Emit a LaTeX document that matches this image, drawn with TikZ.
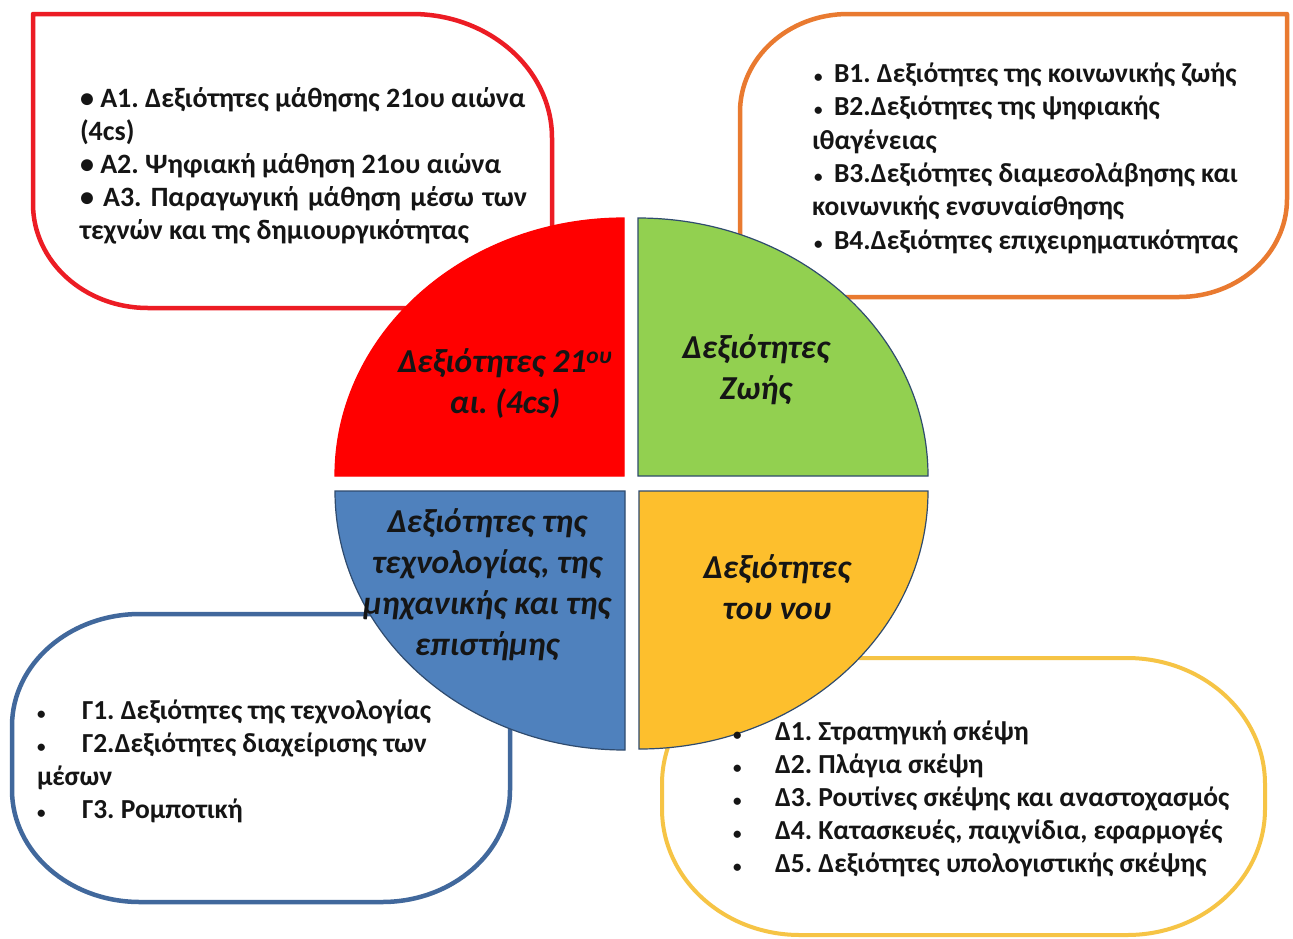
\documentclass[tikz,border=0pt]{standalone}
\usepackage{fontspec}
\setmainfont{Carlito}
\frenchspacing
\definecolor{qred}{HTML}{FF0000}
\definecolor{qgreen}{HTML}{92D050}
\definecolor{qblue}{HTML}{4F81BD}
\definecolor{qyellow}{HTML}{FDBF2D}
\definecolor{qedge}{HTML}{2F4B6E}
\definecolor{bred}{HTML}{EC1C24}
\definecolor{borange}{HTML}{E97A30}
\definecolor{bblue}{HTML}{41689C}
\definecolor{byellow}{HTML}{F6C445}
\definecolor{txt}{HTML}{151515}
\newcommand{\smallbul}{{\fontsize{17}{17}\selectfont •}}
\begin{document}
\begin{tikzpicture}[x=1pt,y=-1pt,
  boxline/.style={line width=4.5pt, fill=white, line join=round},
  quarter/.style={draw=qedge, line width=1.2pt},
  listtext/.style={anchor=north west, align=left, inner sep=0pt, outer sep=0pt, text=txt},
  qlabel/.style={align=center, inner sep=0pt, text=txt, font=\fontsize{33.5}{41}\selectfont\bfseries\itshape}
]
\useasboundingbox (0,0) rectangle (1293,938);
\fill[white] (0,0) rectangle (1293,938);

% callout boxes
\draw[boxline, draw=bred] (33,14) -- (412,14) arc[start angle=90,end angle=0,x radius=140pt,y radius=124pt] -- (552,308) -- (148,308) arc[start angle=270,end angle=180,x radius=115pt,y radius=104pt] -- cycle;
\draw[boxline, draw=borange] (740,297) -- (740,112) arc[start angle=180,end angle=90,x radius=108pt,y radius=98pt] -- (1287,14) -- (1287,199) arc[start angle=0,end angle=-90,x radius=108pt,y radius=98pt] -- cycle;
\draw[boxline, draw=bblue] (12,726) arc[start angle=180,end angle=90,x radius=128pt,y radius=112pt] -- (382,614) arc[start angle=90,end angle=0,x radius=128pt,y radius=112pt] -- (510,790) arc[start angle=0,end angle=-90,x radius=128pt,y radius=112pt] -- (140,902) arc[start angle=270,end angle=180,x radius=128pt,y radius=112pt] -- cycle;
\draw[boxline, draw=byellow, line width=4pt] (662,784) arc[start angle=180,end angle=90,x radius=138pt,y radius=126pt] -- (1127,658) arc[start angle=90,end angle=0,x radius=138pt,y radius=126pt] -- (1265,809) arc[start angle=0,end angle=-90,x radius=138pt,y radius=126pt] -- (800,935) arc[start angle=270,end angle=180,x radius=138pt,y radius=126pt] -- cycle;

% quarters
\filldraw[quarter, fill=qred, draw=qred] (624,476) -- (335,476) arc[start angle=180,end angle=90,x radius=289pt,y radius=258pt] -- cycle;
\filldraw[quarter, fill=qgreen] (638,476) -- (638,218) arc[start angle=90,end angle=0,x radius=290pt,y radius=258pt] -- cycle;
\filldraw[quarter, fill=qblue] (625,491) -- (335,491) arc[start angle=180,end angle=270,x radius=290pt,y radius=259pt] -- cycle;
\filldraw[quarter, fill=qyellow] (639,491) -- (639,749) arc[start angle=270,end angle=360,x radius=289pt,y radius=258pt] -- cycle;

% quarter labels
\node[qlabel] (lred) at (505,384) {Δεξιότητες 21\textsuperscript{ου}\\αι. (4cs)};
\node[qlabel] (lgreen) at (756,370) {Δεξιότητες\\Ζωής};
\node[qlabel] (lblue) at (487,585) {Δεξιότητες της\\τεχνολογίας, της\\μηχανικής και της\\επιστήμης};
\node[qlabel] (lyellow) at (777,587) {Δεξιότητες\\του νου};

% lists
\node[listtext, font=\fontsize{28}{33}\selectfont\bfseries] (tred) at (80,83.9) {\strut • Α1. Δεξιότητες μάθησης 21ου αιώνα\\(4cs)\\• Α2. Ψηφιακή μάθηση 21ου αιώνα\\\makebox[447pt][s]{• Α3. Παραγωγική μάθηση μέσω των}\\τεχνών και της δημιουργικότητας};
\node[listtext, font=\fontsize{27.5}{33.4}\selectfont\bfseries] (torange) at (812,58.9) {\strut\makebox[22pt][l]{\hspace{2pt}\smallbul}Β1. Δεξιότητες της κοινωνικής ζωής\\\makebox[22pt][l]{\hspace{2pt}\smallbul}Β2.Δεξιότητες της ψηφιακής\\ιθαγένειας\\\makebox[22pt][l]{\hspace{2pt}\smallbul}Β3.Δεξιότητες διαμεσολάβησης και\\κοινωνικής ενσυναίσθησης\\\makebox[22pt][l]{\hspace{2pt}\smallbul}Β4.Δεξιότητες επιχειρηματικότητας};
\node[listtext, font=\fontsize{27.5}{33}\selectfont\bfseries] (tblue) at (37,695.9) {\strut\makebox[45pt][l]{\smallbul}Γ1. Δεξιότητες της τεχνολογίας\\\makebox[45pt][l]{\smallbul}Γ2.Δεξιότητες διαχείρισης των\\μέσων\\\makebox[45pt][l]{\smallbul}Γ3. Ρομποτική};
\node[listtext, font=\fontsize{27.5}{33.2}\selectfont\bfseries] (tyellow) at (733,716.9) {\strut\makebox[42pt][l]{\smallbul}Δ1. Στρατηγική σκέψη\\\makebox[42pt][l]{\smallbul}Δ2. Πλάγια σκέψη\\\makebox[42pt][l]{\smallbul}Δ3. Ρουτίνες σκέψης και αναστοχασμός\\\makebox[42pt][l]{\smallbul}Δ4. Κατασκευές, παιχνίδια, εφαρμογές\\\makebox[42pt][l]{\smallbul}Δ5. Δεξιότητες υπολογιστικής σκέψης};
\end{tikzpicture}
\end{document}
